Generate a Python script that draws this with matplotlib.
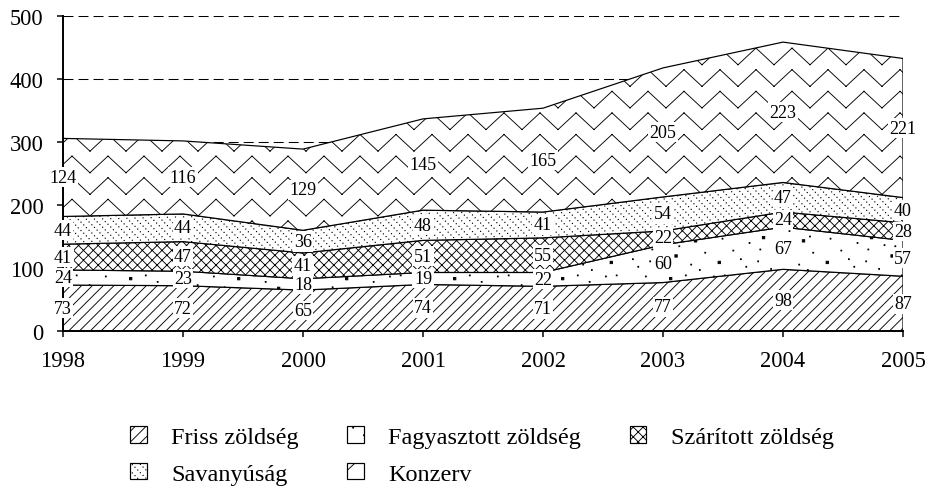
import warnings
import numpy as np
import matplotlib
matplotlib.use("Agg")
import matplotlib.pyplot as plt
from matplotlib import hatch as mhatch
from matplotlib.path import Path

warnings.filterwarnings("ignore", message=".*hatch must consist.*")

# ---- data -------------------------------------------------------------
years = [1998, 1999, 2000, 2001, 2002, 2003, 2004, 2005]
friss = [73, 72, 65, 74, 71, 77, 98, 87]
fagyasztott = [24, 23, 18, 19, 22, 60, 67, 57]
szaritott = [41, 47, 41, 51, 55, 22, 24, 28]
savanyusag = [44, 44, 36, 48, 41, 54, 47, 40]
konzerv = [124, 116, 129, 145, 165, 205, 223, 221]
series_names = ["Friss zöldség", "Fagyasztott zöldség", "Szárított zöldség",
                "Savanyúság", "Konzerv"]
y_ticks = [0, 100, 200, 300, 400, 500]

# ---- custom hatch patterns (unit tile, y up) ----------------------------
MOVE, LINE, CLOSE = Path.MOVETO, Path.LINETO, Path.CLOSEPOLY


def _segments(segs):
    v = np.array([p for s in segs for p in s], float).reshape(-1, 2)
    c = np.tile([MOVE, LINE], len(segs)).astype(Path.code_type)
    return v, c


def _square_paths(pts):
    v, c = [], []
    for x, y, h in pts:
        v += [(x - h, y - h), (x + h, y - h), (x + h, y + h),
              (x - h, y + h), (x - h, y - h)]
        c += [MOVE, LINE, LINE, LINE, CLOSE]
    return np.array(v, float).reshape(-1, 2), np.array(c, Path.code_type)


def _wrapped(pts):
    out = []
    for x, y, h in pts:
        for dx in (-1, 0, 1):
            for dy in (-1, 0, 1):
                cx, cy = x + dx, y + dy
                if -0.05 < cx < 1.05 and -0.05 < cy < 1.05:
                    out.append((cx, cy, h))
    return out


def _diag(n, sign):
    segs = []
    for k in range(-n - 2, 2 * n + 3):
        c0 = k / n
        if sign > 0:
            segs.append(((-0.1, c0 - 0.1), (1.1, c0 + 1.1)))
        else:
            segs.append(((-0.1, c0 + 0.1), (1.1, c0 - 1.1)))
    return segs


def zigzag_tile():
    segs = []
    rows, halfp, amp = 5, 1 / 6, 0.155
    for r in range(-1, rows + 1):
        base = r / rows
        pts = [(i * halfp, base + (amp if i % 2 == 0 else 0.0))
               for i in range(-1, 8)]
        segs += list(zip(pts[:-1], pts[1:]))
    return _segments(segs)


def dotted_back_tile():
    n, m, h = 13, 40, 0.0012
    pts = []
    for k in range(0, 2 * n + 1):
        for j in range(-2, m + 3):
            x = j / m
            y = -x + k / n
            if -0.05 < y < 1.05:
                pts.append((x, y, h))
    return _square_paths(pts)


SPECKLES = [
    (0.03, 0.07, 1), (0.15, 0.21, 0), (0.27, 0.04, 0), (0.38, 0.16, 1),
    (0.52, 0.09, 0), (0.64, 0.23, 0), (0.77, 0.06, 1), (0.89, 0.18, 0),
    (0.08, 0.34, 0), (0.21, 0.42, 1), (0.33, 0.30, 0), (0.46, 0.39, 0),
    (0.58, 0.33, 1), (0.71, 0.45, 0), (0.83, 0.36, 0), (0.95, 0.29, 1),
    (0.02, 0.58, 0), (0.14, 0.51, 0), (0.26, 0.63, 1), (0.40, 0.55, 0),
    (0.53, 0.66, 0), (0.66, 0.57, 1), (0.79, 0.68, 0), (0.91, 0.53, 0),
    (0.07, 0.80, 1), (0.19, 0.73, 0), (0.31, 0.86, 0), (0.44, 0.77, 1),
    (0.57, 0.88, 0), (0.69, 0.79, 0), (0.82, 0.91, 1), (0.94, 0.75, 0),
    (0.11, 0.95, 0), (0.37, 0.97, 0), (0.62, 0.98, 0), (0.86, 0.02, 0),
    (0.48, 0.50, 0), (0.74, 0.14, 0), (0.24, 0.12, 0), (0.98, 0.44, 0),
    (0.12, 0.27, 0), (0.35, 0.45, 0), (0.61, 0.44, 0), (0.86, 0.60, 0),
    (0.04, 0.69, 0), (0.29, 0.72, 0), (0.50, 0.81, 0), (0.75, 0.89, 0),
]


def speckle_tile():
    return _square_paths(_wrapped(
        [(x, y, 0.011 if big else 0.004) for x, y, big in SPECKLES]))


class _TileHatch(mhatch.HatchPatternBase):
    key = None
    builder = None

    def __init__(self, hatch, density):
        if self.key in hatch:
            self._v, self._c = type(self).builder()
        else:
            self._v = np.empty((0, 2))
            self._c = np.empty(0, Path.code_type)
        self.num_vertices = len(self._v)

    def set_vertices_and_codes(self, vertices, codes):
        vertices[:] = self._v
        codes[:] = self._c


def _register(key, builder):
    cls = type("Hatch_" + key, (_TileHatch,),
               {"key": key, "builder": staticmethod(builder)})
    mhatch._hatch_types.append(cls)


_register("d", lambda: _segments(_diag(10, +1)))
_register("k", lambda: _segments(_diag(11, +1) + _diag(11, -1)))
_register("z", zigzag_tile)
_register("q", dotted_back_tile)
_register("p", speckle_tile)

# ---- figure -------------------------------------------------------------
DPI = 108
plt.rcParams["font.family"] = ["Liberation Serif", "DejaVu Serif"]
plt.rcParams["hatch.linewidth"] = 0.6

fig = plt.figure(figsize=(932 / DPI, 495 / DPI), dpi=DPI)
ax = fig.add_axes([63 / 932, 1 - 332 / 495, 840 / 932, (332 - 17.3) / 495])

layers = [friss, fagyasztott, szaritott, savanyusag, konzerv]
hatches = ["d", "p", "k", "q", "z"]
handles = []
base = np.zeros(len(years))
for vals, htch, name in zip(layers, hatches, series_names):
    vals = np.array(vals, float)
    top = base + vals
    pc = ax.fill_between(years, base, top, facecolor="white",
                         edgecolor="black", hatch=htch, linewidth=0.8,
                         zorder=2, label=name)
    handles.append(pc)
    for x, b, v in zip(years, base, vals):
        ax.text(x, b + v / 2, f"{int(v)}", ha="center", va="center",
                fontsize=12, zorder=5, clip_on=False,
                bbox=dict(boxstyle="square,pad=0.08", fc="white", ec="none"))
    base = top

ax.set_xlim(years[0], years[-1])
ax.set_ylim(0, 500)
ax.set_xticks(years)
ax.set_yticks(y_ticks)
ax.tick_params(axis="both", direction="out", length=4, width=1.0,
               labelsize=15, colors="black")
ax.tick_params(axis="x", pad=9)
ax.tick_params(axis="y", pad=9)
ax.yaxis.grid(True, linestyle=(0, (9.5, 4.8)), color="black", linewidth=0.7)
ax.set_axisbelow(True)
for side in ("top", "right"):
    ax.spines[side].set_visible(False)
for side in ("left", "bottom"):
    ax.spines[side].set_linewidth(1.3)

# legend laid out row by row: reorder for column-major filling
order = [0, 3, 1, 4, 2]
leg = fig.legend([handles[i] for i in order], [series_names[i] for i in order],
                 ncol=3, loc="center",
                 bbox_to_anchor=(482 / 932, 1 - 456.5 / 495),
                 frameon=False, fontsize=16.2, handlelength=0.68,
                 handleheight=0.68, handletextpad=1.0, columnspacing=2.0,
                 labelspacing=0.6, borderpad=0)
for h in leg.legend_handles:
    h.set_linewidth(0.8)

fig.savefig("out.png", dpi=DPI)
